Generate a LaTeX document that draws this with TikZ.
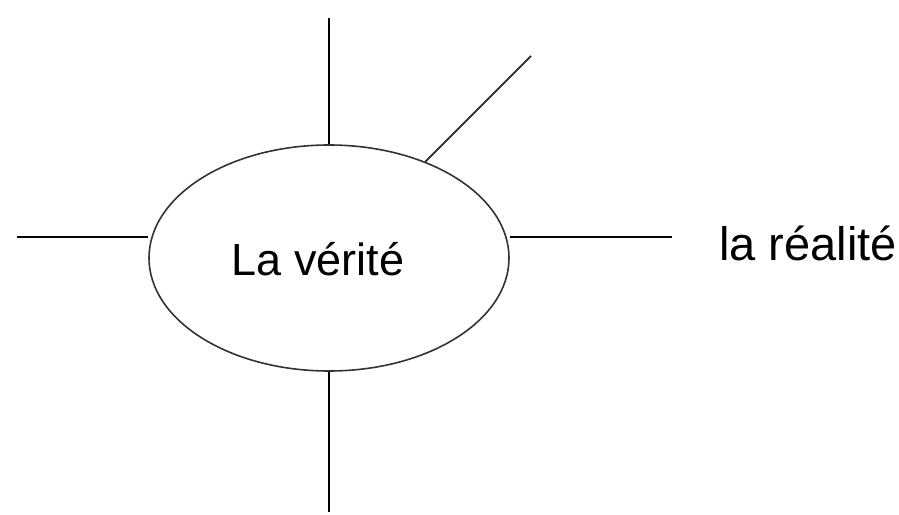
\documentclass[tikz,border=0pt]{standalone}
\usepackage{fontspec}
\setmainfont{Liberation Sans}
\usetikzlibrary{shapes.geometric}
\begin{document}
\begin{tikzpicture}[x=1pt,y=-1pt,
  spoke/.style={line width=2pt,black},
  lbl/.style={font=\fontsize{45}{50}\selectfont,inner sep=0pt}]
\useasboundingbox (0,0) rectangle (899,514);
\node[ellipse,draw=black!80,line width=1.6pt,minimum width=360pt,minimum height=226pt,inner sep=0pt] (e) at (329,258) {};
\node[lbl] (t) at (318,259) {La vérité};
\node[lbl,anchor=west,font=\fontsize{47}{52}\selectfont] (r) at (719,243) {la réalité};
\coordinate (top) at (329,18);
\coordinate (bot) at (329,512);
\coordinate (lft) at (17,237);
\coordinate (rgt) at (672,237);
\coordinate (diag) at (531,56);
\draw[spoke] (top) -- (e.north);
\draw[spoke] (e.south) -- (bot);
\draw[spoke] (lft) -- (e.west |- lft);
\draw[spoke] (e.east |- rgt) -- (rgt);
\draw[spoke,black!80] (e.45) -- (diag);
\end{tikzpicture}
\end{document}
